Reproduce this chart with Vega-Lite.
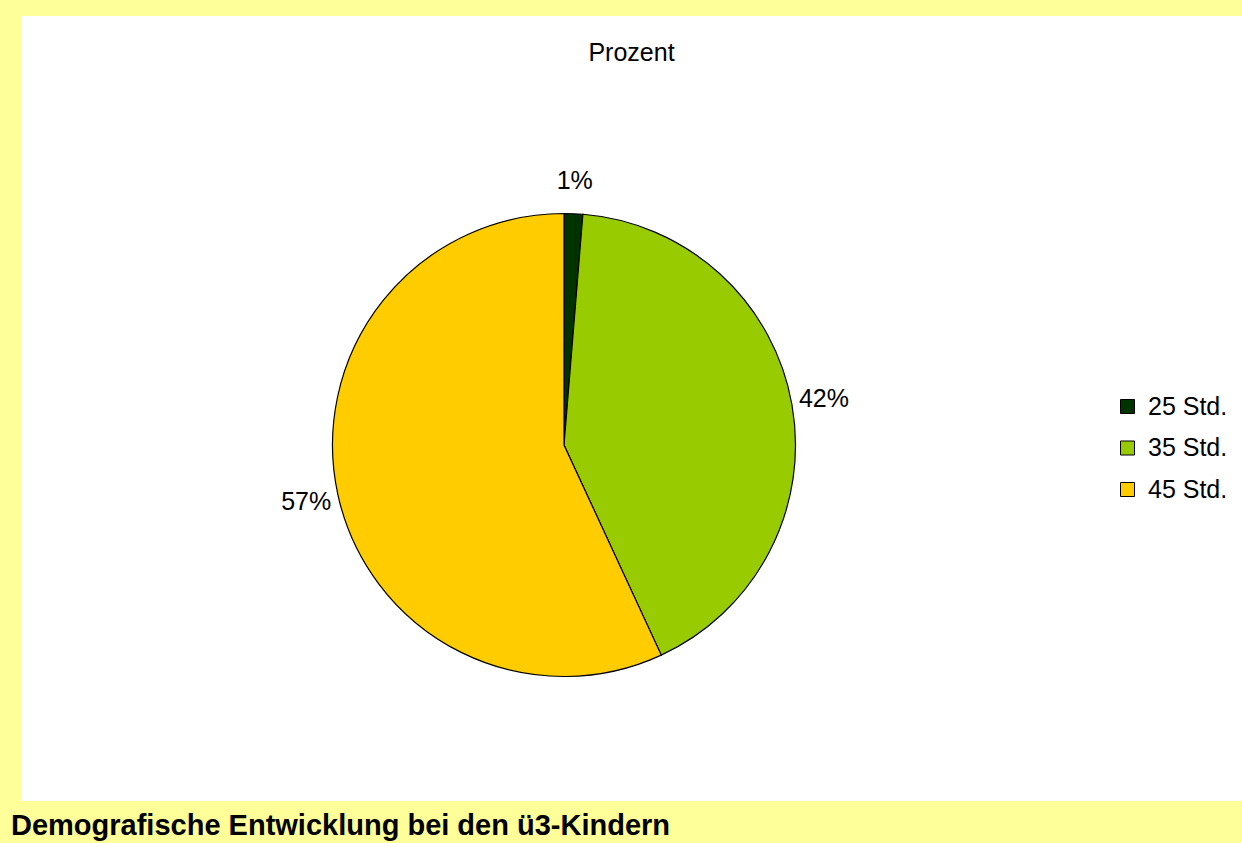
{
  "$schema": "https://vega.github.io/schema/vega-lite/v6.json",
  "background": "#FFFF99",
  "padding": {"left": 11, "top": 16, "right": 0, "bottom": 4},
  "title": {
    "text": "Demografische Entwicklung bei den ü3-Kindern",
    "orient": "bottom",
    "anchor": "start",
    "frame": "bounds",
    "font": "Liberation Sans",
    "fontSize": 29,
    "fontWeight": "bold",
    "color": "black",
    "baseline": "alphabetic",
    "offset": 34,
    "dx": -10
  },
  "config": {
    "view": {"stroke": null, "fill": "white"},
    "concat": {"spacing": 0}
  },
  "bounds": "flush",
  "spacing": 0,
  "datasets": {
    "shares": [
      {"cat": "25 Std.", "share": 0.013},
      {"cat": "35 Std.", "share": 0.418},
      {"cat": "45 Std.", "share": 0.569}
    ]
  },
  "vconcat": [
    {
      "width": 1221,
      "height": 73,
      "view": {"fill": "white", "stroke": null},
      "data": {"values": [{"t": "Prozent"}]},
      "mark": {"type": "text", "font": "Liberation Sans", "fontSize": 25, "color": "black"},
      "encoding": {"text": {"field": "t"}}
    },
    {
      "spacing": 0,
      "bounds": "flush",
      "resolve": {"scale": {"color": "independent"}, "legend": {"color": "independent"}},
      "hconcat": [
        {
          "width": 1086,
          "height": 712,
          "view": {"fill": "white", "stroke": null},
          "data": {"name": "shares"},
          "encoding": {
            "theta": {"field": "share", "type": "quantitative", "stack": true},
            "order": {"field": "cat", "sort": "ascending"},
            "color": {
              "field": "cat",
              "type": "nominal",
              "scale": {"domain": ["25 Std.", "35 Std.", "45 Std."], "range": ["#003300", "#99CC00", "#FFCC00"]},
              "legend": null
            }
          },
          "layer": [
            {"mark": {"type": "arc", "radius": 231.5, "stroke": "black", "strokeWidth": 1.2}},
            {
              "mark": {"type": "text", "radius": 264, "font": "Liberation Sans", "fontSize": 25, "color": "black"},
              "encoding": {"text": {"field": "share", "type": "quantitative", "format": ".0%"}, "color": {"value": "black"}}
            }
          ]
        },
        {
          "width": 135,
          "height": 712,
          "view": {"fill": "white", "stroke": null},
          "data": {"name": "shares"},
          "transform": [{"filter": "false"}],
          "mark": {"type": "arc", "stroke": "black", "strokeWidth": 1},
          "encoding": {
            "theta": {"field": "share", "type": "quantitative"},
            "color": {
              "field": "cat",
              "type": "nominal",
              "scale": {"domain": ["25 Std.", "35 Std.", "45 Std."], "range": ["#003300", "#99CC00", "#FFCC00"]},
              "legend": {
                "title": null,
                "orient": "none",
                "legendX": 8,
                "legendY": 305,
                "symbolType": "square",
                "symbolSize": 196,
                "symbolStrokeColor": "black",
                "symbolStrokeWidth": 1,
                "labelFont": "Liberation Sans",
                "labelFontSize": 25,
                "labelColor": "black",
                "labelOffset": 8,
                "rowPadding": 15.5,
                "labelLimit": 0
              }
            }
          }
        }
      ]
    }
  ]
}
